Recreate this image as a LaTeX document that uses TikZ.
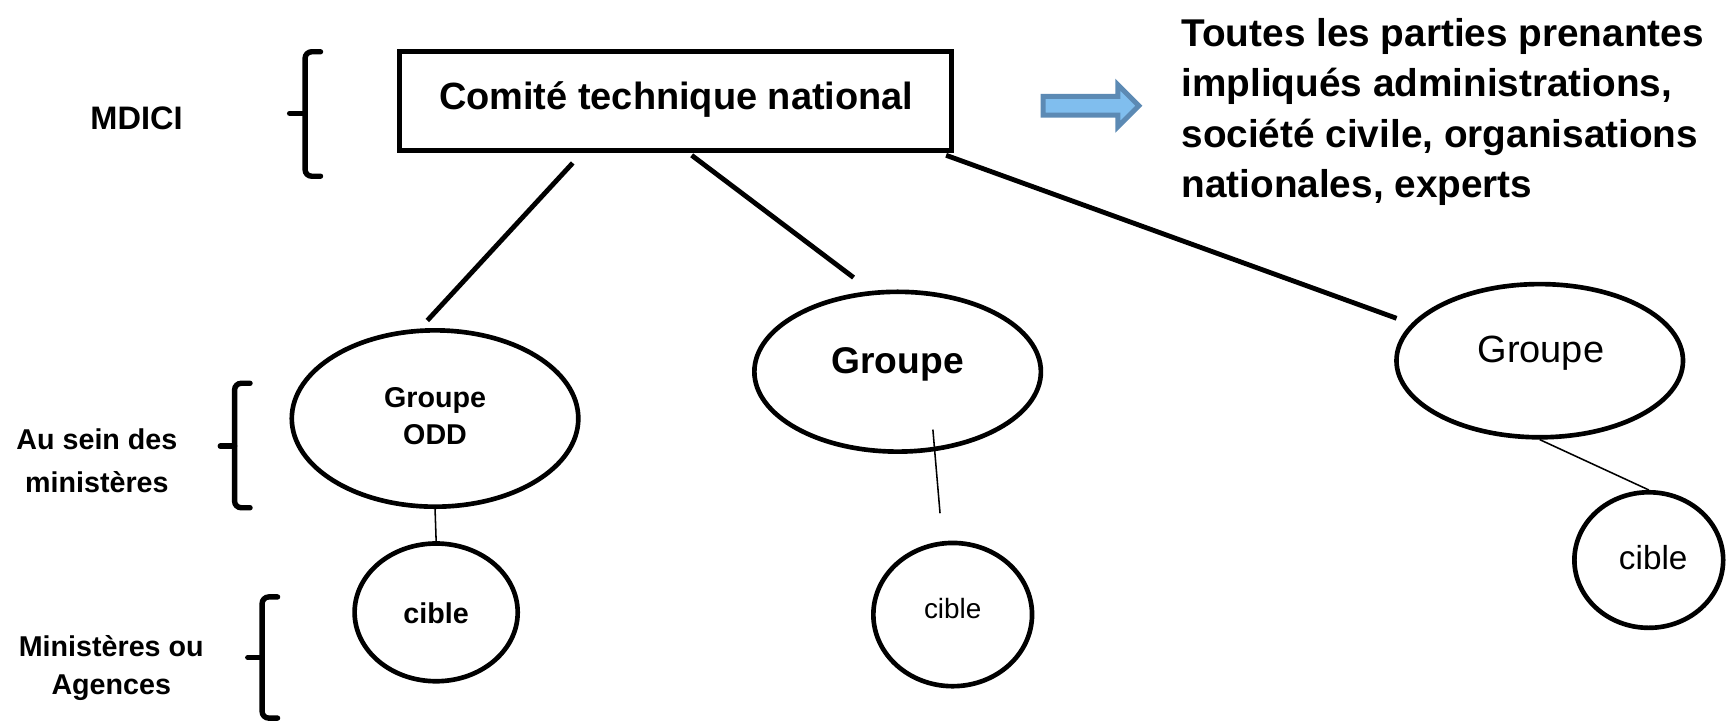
\documentclass[tikz,border=0pt]{standalone}
\usepackage{fontspec}
\setmainfont{Liberation Sans}
\usetikzlibrary{shapes.geometric}
\definecolor{arrfill}{RGB}{128,190,238}
\definecolor{arrdraw}{RGB}{92,138,180}
\tikzset{
  thickline/.style={line width=1.25pt, line cap=round},
  thinline/.style={line width=0.4pt},
  oval/.style={draw, ellipse, line width=1.2pt, inner sep=0pt},
  bracepath/.style={line width=1.4pt, rounded corners=0.6mm, line cap=round},
  smallbold/.style={font=\bfseries\fontsize{7.4}{10.5}\selectfont, align=center, inner sep=0pt},
  plain/.style={inner sep=0pt},
}
\begin{document}
\begin{tikzpicture}[x=0.01cm, y=-0.01cm]
\useasboundingbox (0,0) rectangle (1568,655);

% --- top box
\node[draw, line width=1.25pt, minimum width=5.01cm, minimum height=0.9cm, inner sep=0pt] (ctn) at (613.5,92) {};
\node[plain, anchor=base, font=\bfseries\fontsize{9.8}{12}\selectfont] (ctntext) at (614,99) {Comité technique national};

% --- left labels
\node[plain, anchor=base, font=\bfseries\fontsize{8.4}{10}\selectfont] (mdici) at (124,118) {MDICI};
\node[smallbold, anchor=north, font=\bfseries\fontsize{7.4}{11.1}\selectfont] (ausein) at (88,389) {Au sein des\\ministères};
\node[smallbold, anchor=north, font=\bfseries\fontsize{7.4}{10}\selectfont] (minag) at (101,576) {Ministères ou\\Agences};

% --- braces
\draw[bracepath] (291,47) -- (277,47) -- (277,160) -- (291,160);
\draw[bracepath] (277,103) -- (263,103);
\draw[bracepath] (227,348) -- (213,348) -- (213,461) -- (227,461);
\draw[bracepath] (213,405) -- (200,405);
\draw[bracepath] (252,542) -- (238,542) -- (238,652) -- (252,652);
\draw[bracepath] (238,597) -- (225,597);

% --- blue arrow
\draw[fill=arrfill, draw=arrdraw, line width=1.3pt] (947,87.5) -- (1015,87.5) -- (1015,77) -- (1034,96) -- (1015,115) -- (1015,104.5) -- (947,104.5) -- cycle;

% --- right text
\node[plain, anchor=north west, align=left, font=\bfseries\fontsize{10}{13}\selectfont] (parties) at (1072,16) {Toutes les parties prenantes\\impliqués administrations,\\société civile, organisations\\nationales, experts};

% --- groups
\node[oval, minimum width=2.6cm, minimum height=1.6cm] (g1) at (395,380) {};
\node[smallbold, anchor=north, font=\bfseries\fontsize{7.4}{9.7}\selectfont] (g1text) at (395,351) {Groupe\\ODD};
\node[oval, minimum width=1.48cm, minimum height=1.25cm] (c1) at (396,556) {};
\node[plain, anchor=base, font=\bfseries\fontsize{7.4}{9}\selectfont] (c1text) at (396,566) {cible};

\node[oval, minimum width=2.6cm, minimum height=1.45cm] (g2) at (815,337.5) {};
\node[plain, anchor=base, font=\bfseries\fontsize{9.6}{11}\selectfont] (g2text) at (815,339) {Groupe};
\node[oval, minimum width=1.44cm, minimum height=1.3cm] (c2) at (865,558) {};
\node[plain, anchor=base, font=\fontsize{7.2}{9}\selectfont] (c2text) at (865,562) {cible};

\node[oval, minimum width=2.6cm, minimum height=1.39cm] (g3) at (1398,327.5) {};
\node[plain, anchor=base, font=\fontsize{9.8}{11}\selectfont] (g3text) at (1399,329) {Groupe};
\node[oval, minimum width=1.35cm, minimum height=1.23cm] (c3) at (1497,508.5) {};
\node[plain, anchor=base, font=\fontsize{8.6}{10}\selectfont] (c3text) at (1501,517) {cible};

% --- connectors from the box
\coordinate (l1a) at (520,148);
\coordinate (l1b) at (388,291);
\coordinate (l2a) at (628,141);
\coordinate (l2b) at (775,252);
\coordinate (l3a) at (859,141);
\coordinate (l3b) at (1268,289);
\draw[thickline, line cap=butt] (l1a) -- (l1b);
\draw[thickline, line cap=butt] (l2a) -- (l2b);
\draw[thickline, line cap=butt] (l3a) -- (l3b);

% --- thin connectors
\draw[thinline] (g1.south) -- (c1.north);
\coordinate (m1) at (847,390);
\coordinate (m2) at (853.5,466);
\draw[thinline] (m1) -- (m2);
\draw[thinline] (g3.south) -- (c3.north);
\end{tikzpicture}
\end{document}
